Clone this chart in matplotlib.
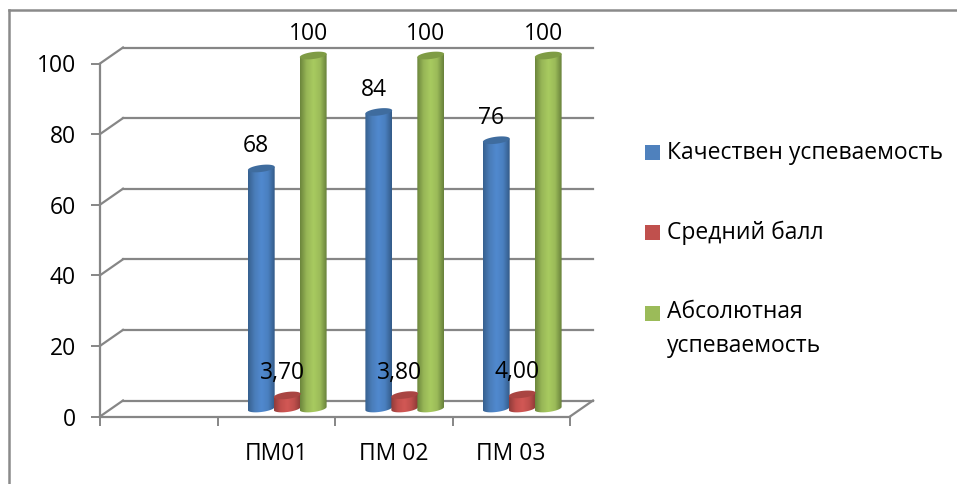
import numpy as np
import matplotlib
matplotlib.use("Agg")
import matplotlib.pyplot as plt
from matplotlib.colors import LinearSegmentedColormap
from matplotlib.lines import Line2D
from matplotlib.patches import Polygon, Rectangle
from matplotlib.transforms import Affine2D

categories = ["", "ПМ01", "ПМ 02", "ПМ 03"]
kach = [None, 68, 84, 76]
sred = [None, 3.70, 3.80, 4.00]
abso = [None, 100, 100, 100]
kach_labels = ["", "68", "84", "76"]
sred_labels = ["", "3,70", "3,80", "4,00"]
abso_labels = ["", "100", "100", "100"]
y_ticks = [0, 20, 40, 60, 80, 100]
legend_names = ["Качествен успеваемость", "Средний балл", "Абсолютная\nуспеваемость"]

W, H = 957, 484
plt.rcParams["font.family"] = ["Open Sans", "DejaVu Sans"]
FS = 16.5
GRAY = "#868686"

fig = plt.figure(figsize=(W / 100, H / 100), dpi=100)
fig.patch.set_facecolor("white")

def fx(p): return p / W
def fy(p): return 1 - p / H

# outer frame (top and left only)
fig.add_artist(Line2D([fx(9), fx(W)], [fy(10), fy(10)], color="#8a8a8a", lw=1.8))
fig.add_artist(Line2D([fx(9), fx(9)], [fy(10), 0], color="#8a8a8a", lw=1.8))

ax = fig.add_axes([fx(100), fy(416.5), fx(470), 353 / H])
ax.set_xlim(0, 4)
ax.set_ylim(0, 100)
ax.patch.set_alpha(0)

for s in ("top", "right"):
    ax.spines[s].set_visible(False)
for s in ("left", "bottom"):
    ax.spines[s].set_color(GRAY)
    ax.spines[s].set_linewidth(1.6)

ax.set_yticks(y_ticks)
ax.set_xticks(range(5))
ax.set_xticklabels([])
ax.set_xticks(np.arange(4) + 0.5, minor=True)
ax.set_xticklabels(categories, minor=True)
ax.tick_params(axis="x", which="minor", length=0, labelsize=FS, pad=18)
ax.tick_params(axis="x", which="major", length=6.5, width=1.4, color=GRAY)
ax.tick_params(axis="y", length=6.5, width=1.4, color=GRAY, labelsize=FS, pad=11)

# pixel offsets for the pseudo-3D depth
DX, DY = 23, 16
back_t = ax.transData + Affine2D().translate(DX, DY)
mid_t = ax.transData + Affine2D().translate(11, 8)

def depth_line(x, v):
    """Diagonal from a point on the front plane to the back wall."""
    p0 = ax.transData.transform((x, v))
    p1 = back_t.transform((x, v))
    ln = Line2D([p0[0], p1[0]], [p0[1], p1[1]], transform=None, color=GRAY, lw=1.6, zorder=1)
    ln.set_clip_on(False)
    ax.add_line(ln)

for v in y_ticks:
    ax.plot([0, 4], [v, v], transform=back_t, color=GRAY, lw=1.6, clip_on=False, zorder=1)
    depth_line(0, v)
depth_line(4, 0)

BAR_W = 0.228
PX_Y = 100 / 353
RX = BAR_W / 2
RY = 3.5 * PX_Y
TILT = 1.6 * PX_Y
t = np.linspace(0, 2 * np.pi, 81)

def cylinder(xc, v, colors, top_color):
    cmap = LinearSegmentedColormap.from_list("c", colors)
    grad = np.linspace(0, 1, 128).reshape(1, -1)
    half = t[:41]
    xs = xc + RX * np.cos(half)
    low = -RY * np.sin(half) + TILT * np.cos(half)
    up = v + TILT * np.cos(half)
    verts = np.vstack([np.c_[xs, low], np.c_[xs[::-1], up[::-1]]])
    body = Polygon(verts, closed=True, transform=mid_t, facecolor="none", edgecolor="none",
                   zorder=3)
    body.set_clip_on(False)
    ax.add_patch(body)
    im = ax.imshow(grad, extent=[xc - RX, xc + RX, -RY * 2, v + RY * 2], cmap=cmap,
                   aspect="auto", transform=mid_t, zorder=3, interpolation="bilinear")
    im.set_clip_box(fig.bbox)
    im.set_clip_path(body)
    top = Polygon(np.c_[xc + RX * np.cos(t), v + RY * np.sin(t) + TILT * np.cos(t)],
                  closed=True, transform=mid_t, facecolor=top_color, edgecolor="none", zorder=4)
    top.set_clip_on(False)
    ax.add_patch(top)

BLUE = (["#36608f", "#4a7db9", "#5089cf", "#4a80c0", "#335a87"], "#3f6c9e")
RED = (["#8f3c3a", "#c24f4c", "#d25855", "#bf4f4c", "#8c3936"], "#a94542")
GREEN = (["#6b853c", "#98b757", "#a8cb60", "#9bbb59", "#67803a"], "#7f9c45")

LAB_KW = dict(textcoords="offset pixels", ha="center", va="center", fontsize=FS,
              color="black", zorder=6, annotation_clip=False)

for series, labels, off, style in ((kach, kach_labels, -0.221, BLUE),
                                   (sred, sred_labels, 0.0, RED),
                                   (abso, abso_labels, 0.221, GREEN)):
    for i, v in enumerate(series):
        if v is None:
            continue
        xc = i + 0.5 + off
        cylinder(xc, v, *style)
        ax.annotate(labels[i], xy=(xc, v), xytext=(6, 30), **LAB_KW)

ax.set_xlim(0, 4)
ax.set_ylim(0, 100)

# legend
swatches = ["#4F81BD", "#C0504D", "#9BBB59"]
sw_y = [152.5, 232.5, 313.5]
txt_y = [153, 233, 329]
for c, name, sy, ty in zip(swatches, legend_names, sw_y, txt_y):
    fig.add_artist(Rectangle((fx(645), fy(sy + 7.5)), 15 / W, 15 / H, facecolor=c,
                             edgecolor="none", transform=fig.transFigure))
    fig.text(fx(667), fy(ty), name, fontsize=FS, ha="left", va="center", color="black",
             linespacing=1.6)

fig.savefig("out.png", dpi=100)
